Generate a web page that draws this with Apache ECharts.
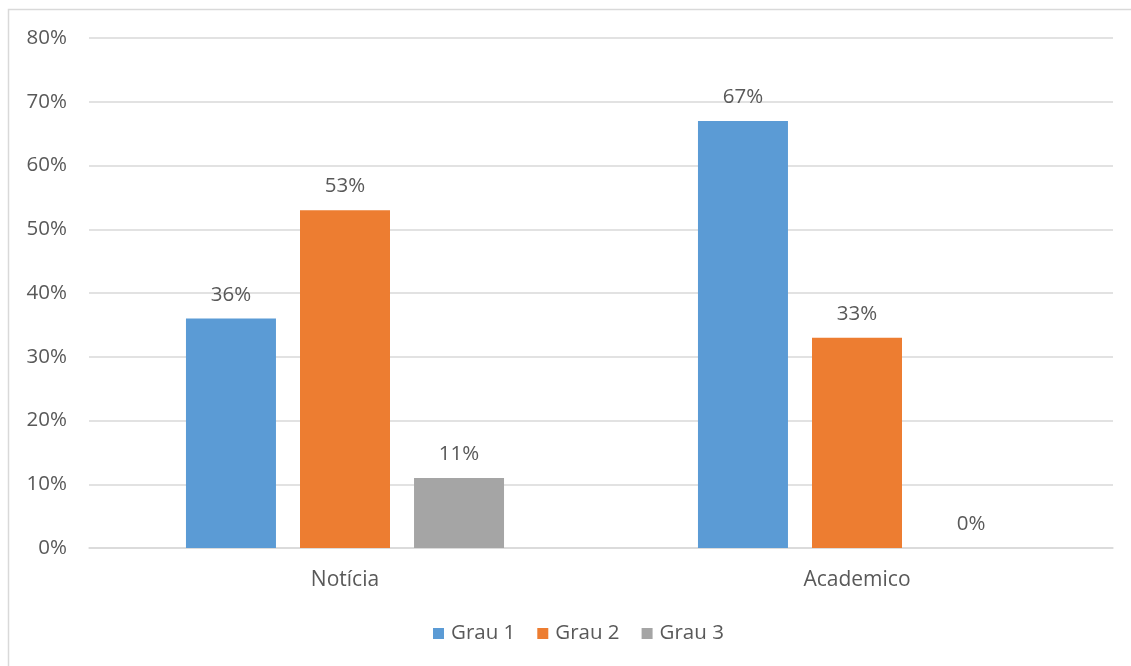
<!DOCTYPE html>
<html>
<head>
<meta charset="utf-8">
<script src="https://cdn.jsdelivr.net/npm/echarts@6/dist/echarts.min.js"></script>
<style>
  html, body { margin: 0; padding: 0; background: #fff; }
  #chart { width: 1131px; height: 666px; }
</style>
</head>
<body>
<div id="chart"></div>
<script>
// Categories and series values (percent)
const categories = ['Notícia', 'Academico'];
const seriesNames = ['Grau 1', 'Grau 2', 'Grau 3'];
const grau1 = [36, 67];
const grau2 = [53, 33];
const grau3 = [11, 0];
const colors = ['#5B9BD5', '#ED7D31', '#A5A5A5'];

const textColor = '#595959';
const fontFamily = '"Open Sans", "Noto Sans", sans-serif';

const chart = echarts.init(document.getElementById('chart'), null, { renderer: 'canvas' });

function barSeries(name, data, color) {
  return {
    name: name,
    type: 'bar',
    data: data,
    barWidth: 90,
    barGap: '26.7%',
    itemStyle: { color: color },
    label: {
      show: true,
      position: 'top',
      distance: 13,
      formatter: p => p.value + '%',
      color: textColor,
      fontSize: 20.5,
      fontFamily: fontFamily
    }
  };
}

chart.setOption({
  animation: false,
  backgroundColor: '#fff',
  textStyle: { fontFamily: fontFamily },
  graphic: [{
    type: 'rect',
    shape: { x: 8.5, y: 9.5, width: 1140, height: 700 },
    style: { fill: 'none', stroke: '#d9d9d9', lineWidth: 1.5 },
    silent: true
  }],
  grid: { left: 89, right: 18, top: 38, bottom: 118 },
  legend: {
    bottom: 17,
    left: 428,
    itemWidth: 11,
    itemHeight: 11,
    itemGap: 22,
    icon: 'rect',
    textStyle: { color: textColor, fontSize: 20.5, fontFamily: fontFamily, padding: [0, 0, 0, 2] },
    data: seriesNames
  },
  xAxis: {
    type: 'category',
    data: categories,
    axisLine: { lineStyle: { color: '#d9d9d9', width: 1.5 } },
    axisTick: { show: false },
    axisLabel: { color: textColor, fontSize: 21, margin: 22, fontFamily: fontFamily }
  },
  yAxis: {
    type: 'value',
    min: 0,
    max: 80,
    interval: 10,
    axisLine: { show: false },
    axisTick: { show: false },
    splitLine: { lineStyle: { color: '#d9d9d9', width: 1.5 } },
    axisLabel: {
      color: textColor,
      fontSize: 20.5,
      margin: 22,
      fontFamily: fontFamily,
      formatter: v => v + '%'
    }
  },
  series: [
    barSeries(seriesNames[0], grau1, colors[0]),
    barSeries(seriesNames[1], grau2, colors[1]),
    barSeries(seriesNames[2], grau3, colors[2])
  ]
});
</script>
</body>
</html>
